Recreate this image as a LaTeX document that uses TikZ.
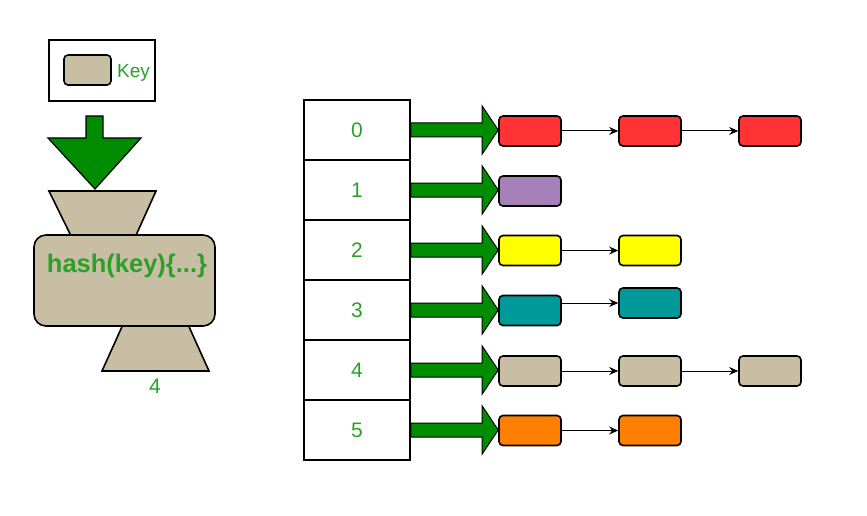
\documentclass[tikz,border=0pt]{standalone}
\usepackage{fontspec}
\setmainfont{Liberation Sans}
\usetikzlibrary{calc,arrows.meta}
\definecolor{txtgreen}{HTML}{2AA02A}
\definecolor{arrgreen}{HTML}{008C00}
\definecolor{cred}{HTML}{FF3333}
\definecolor{cpurple}{HTML}{A680B8}
\definecolor{cyellow}{HTML}{FFFF00}
\definecolor{cteal}{HTML}{009999}
\definecolor{ctan}{HTML}{C7BEA3}
\definecolor{corange}{HTML}{FF8000}
\tikzset{
  cell/.style={draw, line width=1.6pt, minimum width=106pt, minimum height=60pt, inner sep=0pt, font=\fontsize{21}{23}\selectfont, text=txtgreen},
  item/.style={draw, line width=1.6pt, rounded corners=4pt, minimum width=62pt, minimum height=30pt, inner sep=0pt},
  bigarrow/.style={draw=black, line width=1pt, fill=arrgreen, line join=miter},
  link/.style={-{Stealth[length=9pt,width=8pt]}, line width=1pt},
  tanshape/.style={draw, line width=1.6pt, fill=ctan, line join=miter},
}
\newcommand\bigarr[2]{%
  \draw[bigarrow] let \p1=(#1.east), \p2=(#2.west) in
    (\x1,\y1+7pt) -- (\x2-16pt,\y1+7pt) -- (\x2-16pt,\y1+24pt) -- (\x2,\y1)
    -- (\x2-16pt,\y1-24pt) -- (\x2-16pt,\y1-7pt) -- (\x1,\y1-7pt) -- cycle;}
\begin{document}
\begin{tikzpicture}[x=1pt,y=-1pt]
\useasboundingbox (0,0) rectangle (867,516);
% ---- left: key and hash function
\node[draw, line width=1.6pt, minimum width=106pt, minimum height=61pt, inner sep=0pt] (kbox) at (102,70.5) {};
\node[item, fill=ctan, minimum width=47pt] (key) at (87.5,70) {};
\node[anchor=west, inner sep=0pt, text=txtgreen, font=\fontsize{19}{21}\selectfont] (keylbl) at (117,73) {Key};
\draw[bigarrow, line width=1.2pt] (86,116) -- (103,116) -- (103,138) -- (141,138) -- (95,189) -- (48,138) -- (86,138) -- cycle;
\draw[tanshape] (49,191) -- (156,191) -- (133,242) -- (74,242) -- cycle;
\draw[tanshape] (102,371) -- (209,371) -- (186,320) -- (125,320) -- cycle;
\node[draw, line width=1.6pt, fill=ctan, rounded corners=12pt, minimum width=181pt, minimum height=91pt, inner sep=0pt] (hash) at (124.5,280.5) {};
\node[text=txtgreen, font=\fontsize{25.5}{28}\selectfont\bfseries, inner sep=0pt] (hashlbl) at (127,266) {hash(key)\{...\}};
\node[text=txtgreen, font=\fontsize{21}{23}\selectfont, inner sep=0pt] (out) at (155,386) {4};
% ---- table
\foreach \i in {0,...,5}{
  \node[cell] (c\i) at (357,130+60*\i) {\i};
}
% ---- chains
\node[item, fill=cred] (r0a) at (530,131) {};
\node[item, fill=cred] (r0b) at (650,131) {};
\node[item, fill=cred] (r0c) at (770,131) {};
\node[item, fill=cpurple] (r1a) at (530,191) {};
\node[item, fill=cyellow] (r2a) at (530,250.5) {};
\node[item, fill=cyellow] (r2b) at (650,250.5) {};
\node[item, fill=cteal] (r3a) at (530,310.5) {};
\node[item, fill=cteal] (r3b) at (650,303) {};
\node[item, fill=ctan] (r4a) at (530,371) {};
\node[item, fill=ctan] (r4b) at (650,371) {};
\node[item, fill=ctan] (r4c) at (770,371) {};
\node[item, fill=corange] (r5a) at (530,430.5) {};
\node[item, fill=corange] (r5b) at (650,430.5) {};
% ---- big arrows
\bigarr{c0}{r0a}
\bigarr{c1}{r1a}
\bigarr{c2}{r2a}
\bigarr{c3}{r3a}
\bigarr{c4}{r4a}
\bigarr{c5}{r5a}
% ---- links
\draw[link] (r0a) -- (r0b);
\draw[link] (r0b) -- (r0c);
\draw[link] (r2a) -- (r2b);
\draw[link] (r3a.east |- r3b.west) -- (r3b.west);
\draw[link] (r4a) -- (r4b);
\draw[link] (r4b) -- (r4c);
\draw[link] (r5a) -- (r5b);
\end{tikzpicture}
\end{document}
